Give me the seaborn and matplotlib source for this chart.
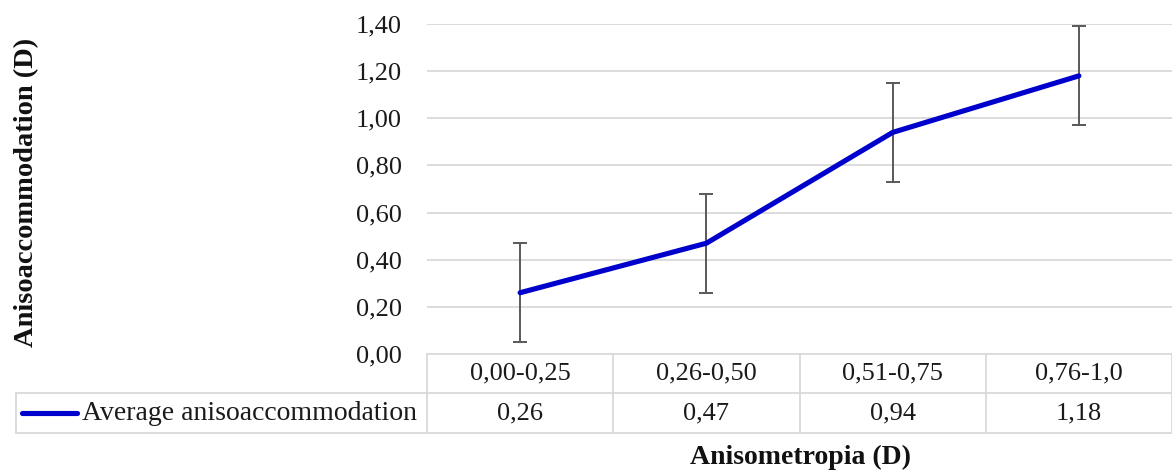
import numpy as np
import pandas as pd
import seaborn as sns
import matplotlib.pyplot as plt

# chart values
categories = ["0,00-0,25", "0,26-0,50", "0,51-0,75", "0,76-1,0"]
means = [0.26, 0.47, 0.94, 1.18]
errors = [0.21, 0.21, 0.21, 0.21]
value_labels = ["0,26", "0,47", "0,94", "1,18"]
yticks = [0.0, 0.2, 0.4, 0.6, 0.8, 1.0, 1.2, 1.4]
series_name = "Average anisoaccommodation"

df = pd.DataFrame({"range": categories, "mean": means, "err": errors})

sns.set_theme(style="white")
plt.rcParams["font.family"] = ["Liberation Serif", "DejaVu Serif"]

W, H = 1172, 471
fig = plt.figure(figsize=(W / 100, H / 100), dpi=100)
ax = fig.add_axes([427 / W, 117 / H, 745 / W, 330 / H])

grid_c = "#d9d9d9"
line_c = "#0000cc"
err_c = "#595959"
txt_c = "#1a1a1a"

# line and error bars
sns.lineplot(data=df, x="range", y="mean", sort=False, color=line_c,
             linewidth=3.7, ax=ax, zorder=3)
ax.errorbar(df["range"], df["mean"], yerr=df["err"], fmt="none",
            ecolor=err_c, elinewidth=1.4, capsize=5, capthick=1.4, zorder=2)

ax.set_xlim(-0.5, len(categories) - 0.5)
ax.set_ylim(0, 1.4)
ax.set_yticks(yticks)
ax.set_yticklabels([f"{t:.2f}".replace(".", ",") for t in yticks], fontsize=19)
ax.tick_params(axis="y", length=0, pad=18, colors=txt_c)
ax.set_xticks([])
ax.set_xlabel("")
ax.set_ylabel("")
for s in ax.spines.values():
    s.set_visible(False)
for t in yticks[1:]:
    ax.axhline(t, color=grid_c, lw=1.3, zorder=0)

# data table below the axis
tr = ax.transAxes
r1 = -39 / 330
r2 = -79 / 330
left = -411 / 745
lk = dict(color=grid_c, lw=1.3, transform=tr, clip_on=False)
ax.plot([0, 1], [0, 0], **lk)
ax.plot([left, 1], [r1, r1], **lk)
ax.plot([left, 1], [r2, r2], **lk)
ax.plot([left, left], [r1, r2], **lk)
for i in range(len(categories) + 1):
    ax.plot([i / 4, i / 4], [0, r2], **lk)
for i, (c, v) in enumerate(zip(categories, value_labels)):
    x = (i + 0.5) / len(categories)
    ax.text(x, r1 / 2, c, transform=tr, ha="center", va="center",
            fontsize=19, color=txt_c)
    ax.text(x, (r1 + r2) / 2, v, transform=tr, ha="center", va="center",
            fontsize=19, color=txt_c)

# legend key in row header
ax.plot([-405 / 745, -350 / 745], [(r1 + r2) / 2] * 2, color=line_c, lw=3.7,
        transform=tr, clip_on=False, solid_capstyle="round")
ax.text(-345 / 745, (r1 + r2) / 2, series_name, transform=tr, ha="left",
        va="center", fontsize=20, color=txt_c)

fig.text(800 / W, 1 - 457 / H, "Anisometropia (D)", ha="center", va="center",
         fontsize=20, fontweight="bold", color="#111111")
fig.text(27 / W, 1 - 192 / H, "Anisoaccommodation (D)", ha="center",
         va="center", rotation=90, fontsize=20.5, fontweight="bold",
         color="#111111")

fig.savefig("out.png", dpi=100)
